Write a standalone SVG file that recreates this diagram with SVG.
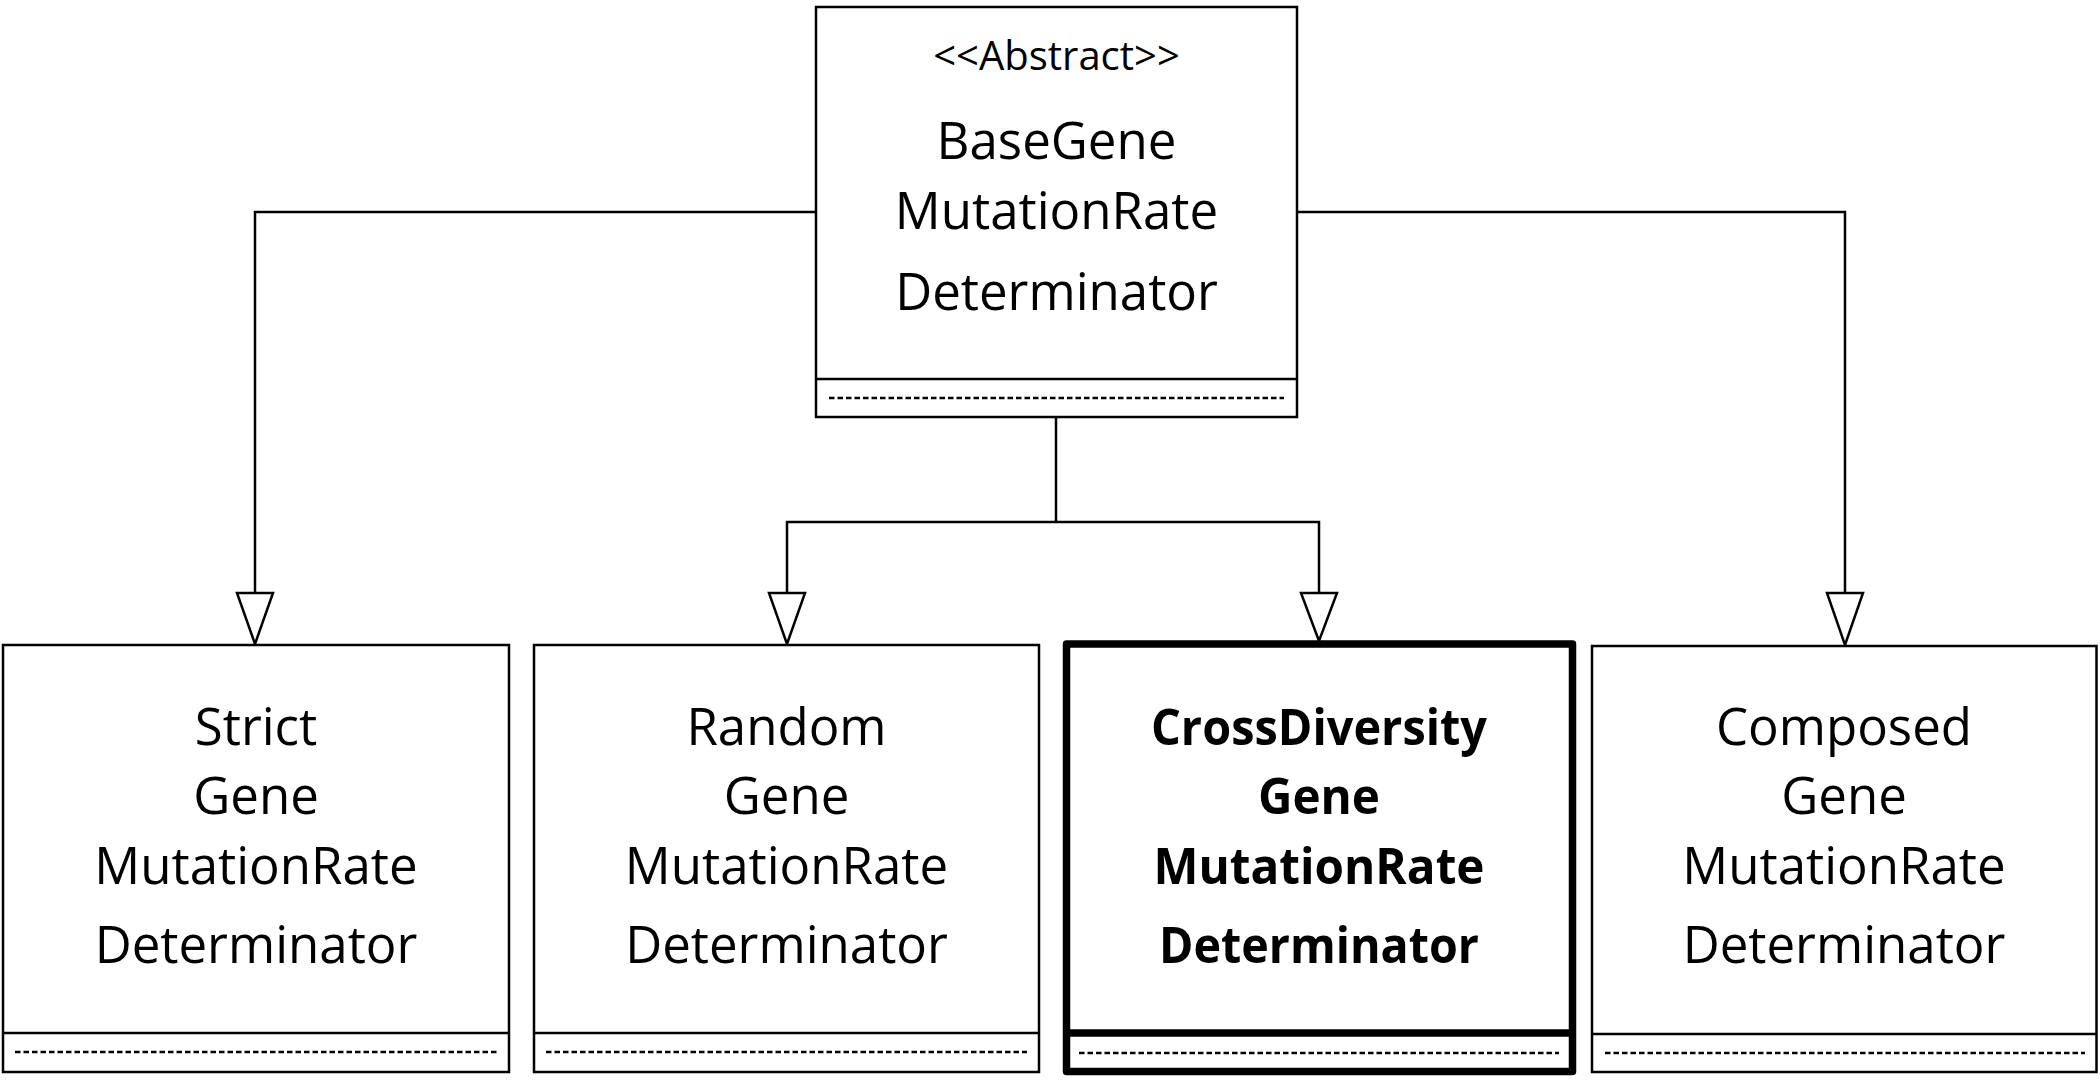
<svg xmlns="http://www.w3.org/2000/svg" width="2100" height="1080" viewBox="0 0 2100 1080">
  <style>
    .box { fill: #ffffff; stroke: #000000; stroke-width: 2.5; }
    .thick { fill: #ffffff; stroke: #000000; stroke-width: 7.5; stroke-linejoin: round; }
    .sep { stroke: #000000; stroke-width: 2.5; fill: none; }
    .sepThick { stroke: #000000; stroke-width: 7.5; fill: none; }
    .dash { stroke: #000000; stroke-width: 2.5; stroke-dasharray: 5.5 3; fill: none; }
    .conn { stroke: #000000; stroke-width: 2.5; fill: none; }
    .arrow { fill: #ffffff; stroke: #000000; stroke-width: 2.5; stroke-linejoin: miter; }
    .t { font-family: "Open Sans", "Noto Sans", sans-serif; font-size: 51px; fill: #000000; text-anchor: middle; }
    .st { font-family: "Open Sans", "Noto Sans", sans-serif; font-size: 40px; fill: #000000; text-anchor: middle; }
    .b { font-family: "Open Sans", "Noto Sans", sans-serif; font-size: 51px; font-weight: bold; fill: #000000; text-anchor: middle; }
  </style>

  <g id="connectors">
    <polyline class="conn" points="816,212 255,212 255,593"/>
    <polyline class="conn" points="1297,212 1845,212 1845,593"/>
    <polyline class="conn" points="1056,417 1056,522"/>
    <polyline class="conn" points="787,593 787,522 1319,522 1319,593"/>
    <polygon class="arrow" points="237,593 273,593 255,644"/>
    <polygon class="arrow" points="769,593 805,593 787,644"/>
    <polygon class="arrow" points="1301,593 1337,593 1319,641"/>
    <polygon class="arrow" points="1827,593 1863,593 1845,645"/>
  </g>

  <g id="BaseGeneMutationRateDeterminator">
    <rect class="box" x="816" y="7" width="481" height="410"/>
    <line class="sep" x1="816" y1="379" x2="1297" y2="379"/>
    <line class="dash" x1="829" y1="398" x2="1284" y2="398"/>
    <text class="st" x="1056.5" y="70">&lt;&lt;Abstract&gt;&gt;</text>
    <text class="t" x="1056.5" y="159">BaseGene</text>
    <text class="t" x="1056.5" y="229">MutationRate</text>
    <text class="t" x="1056.5" y="310">Determinator</text>
  </g>

  <g id="StrictGeneMutationRateDeterminator">
    <rect class="box" x="3" y="645" width="506" height="427"/>
    <line class="sep" x1="3" y1="1033" x2="509" y2="1033"/>
    <line class="dash" x1="15" y1="1052" x2="497" y2="1052"/>
    <text class="t" x="256" y="745">Strict</text>
    <text class="t" x="256" y="814">Gene</text>
    <text class="t" x="256" y="884">MutationRate</text>
    <text class="t" x="256" y="963">Determinator</text>
  </g>

  <g id="RandomGeneMutationRateDeterminator">
    <rect class="box" x="534" y="645" width="505" height="427"/>
    <line class="sep" x1="534" y1="1033" x2="1039" y2="1033"/>
    <line class="dash" x1="546" y1="1052" x2="1027" y2="1052"/>
    <text class="t" x="786.5" y="745">Random</text>
    <text class="t" x="786.5" y="814">Gene</text>
    <text class="t" x="786.5" y="884">MutationRate</text>
    <text class="t" x="786.5" y="963">Determinator</text>
  </g>

  <g id="CrossDiversityGeneMutationRateDeterminator">
    <rect class="thick" x="1066.5" y="644" width="506" height="427.5"/>
    <line class="sepThick" x1="1066.5" y1="1033" x2="1572.5" y2="1033"/>
    <line class="dash" x1="1079" y1="1053" x2="1559" y2="1053"/>
    <text class="b" x="1319" y="745" textLength="336" lengthAdjust="spacingAndGlyphs">CrossDiversity</text>
    <text class="b" x="1319" y="814" textLength="122" lengthAdjust="spacingAndGlyphs">Gene</text>
    <text class="b" x="1319" y="884" textLength="331" lengthAdjust="spacingAndGlyphs">MutationRate</text>
    <text class="b" x="1319" y="963" textLength="320" lengthAdjust="spacingAndGlyphs">Determinator</text>
  </g>

  <g id="ComposedGeneMutationRateDeterminator">
    <rect class="box" x="1592" y="646" width="504.5" height="426"/>
    <line class="sep" x1="1592" y1="1034" x2="2096.5" y2="1034"/>
    <line class="dash" x1="1605" y1="1053" x2="2085" y2="1053"/>
    <text class="t" x="1844" y="745">Composed</text>
    <text class="t" x="1844" y="814">Gene</text>
    <text class="t" x="1844" y="884">MutationRate</text>
    <text class="t" x="1844" y="963">Determinator</text>
  </g>
</svg>
